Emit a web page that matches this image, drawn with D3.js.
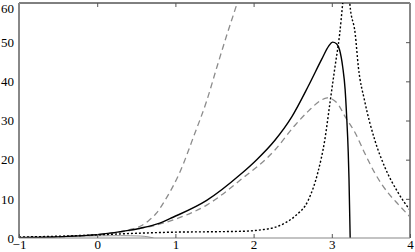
<!DOCTYPE html>
<html>
<head>
<meta charset="utf-8">
<script src="https://cdn.jsdelivr.net/npm/d3@7"></script>
<style>
	body { margin: 0; background: #fff; }
	svg { display: block; }
</style>
</head>
<body>
<div id="chart"></div>
<script>
// tick values
const xTicks = [-1, 0, 1, 2, 3, 4];
const yTicks = [0, 10, 20, 30, 40, 50, 60];

// black solid curve
const solidX = [-1, -0.5, 0, 0.42, 0.55, 0.8, 0.97, 1.4, 1.83, 2.04, 2.27, 2.49, 2.7, 2.87, 2.96, 3.01, 3.06, 3.1, 3.14, 3.17, 3.19, 3.21, 3.22, 3.235];
const solidY = [0.1, 0.3, 0.85, 2.0, 2.5, 3.8, 5.3, 9.6, 16.2, 20.0, 24.9, 31.0, 38.8, 45.6, 49.0, 50, 49.6, 48, 43.6, 38, 31, 22, 15, 0];

// grey dashed curve, steep one
const steepX = [-1, -0.5, 0, 0.3, 0.45, 0.55, 0.65, 0.76, 0.87, 1.05, 1.25, 1.4, 1.53, 1.66, 1.79, 1.85];
const steepY = [0.1, 0.3, 0.9, 1.6, 2.3, 3.0, 4.3, 6.4, 9.7, 16.5, 26.8, 35, 43.6, 52, 60, 64];

// grey dashed curve with a hump
const humpX = [-1, -0.5, 0, 0.5, 1, 1.4, 1.83, 2.27, 2.53, 2.7, 2.85, 2.94, 3.07, 3.17, 3.3, 3.42, 3.55, 3.72, 3.85, 4];
const humpY = [0.1, 0.3, 0.8, 2.2, 4.8, 8.4, 14.8, 22.4, 28.8, 32.4, 35.0, 35.8, 34.4, 31, 26.8, 21.7, 16.6, 11.5, 8.6, 5.4];

// dotted curve, left and right of the pole
const dotLeftX = [-1, -0.5, 0, 0.5, 1, 1.5, 1.9, 2.1, 2.27, 2.4, 2.53, 2.7, 2.82, 2.91, 2.98, 3.04, 3.1, 3.14, 3.17];
const dotLeftY = [0.25, 0.45, 0.8, 1.2, 1.5, 1.6, 1.75, 2.1, 2.7, 3.8, 5.6, 9.7, 16.6, 25, 35, 43.6, 52, 60, 66];
const dotRightX = [3.21, 3.23, 3.3, 3.34, 3.42, 3.55, 3.68, 3.85, 4];
const dotRightY = [68, 60, 52, 43.6, 35, 25, 18, 11.5, 7.1];

// thin grey solid curve
const thinX = [-1, -0.5, 0, 0.3, 0.55, 0.65, 0.7, 0.72];
const thinY = [0.2, 0.35, 0.55, 0.6, 0.5, 0.3, 0.1, 0];

function zip(xs, ys) {
	return xs.map(function(d, i) { return {x: d, y: ys[i]}; });
}

let margins = {top: 3, right: 5, bottom: 14, left: 19},
	full_width = 415,
	full_height = 252,
	width = full_width - margins.left - margins.right,
	height = full_height - margins.top - margins.bottom;

let x = d3.scaleLinear().domain([-1, 4]).range([0, width]);
let y = d3.scaleLinear().domain([0, 60]).range([height, 0]);

let svg = d3.select('#chart')
	.append('svg')
	.attr('width', full_width)
	.attr('height', full_height);

let g = svg.append('g')
	.attr('transform', 'translate(' + margins.left + ',' + margins.top + ')');

g.append('clipPath')
	.attr('id', 'plot-clip')
	.append('rect')
	.attr('width', width)
	.attr('height', height);

let line = d3.line()
	.x(function(d) { return x(d.x); })
	.y(function(d) { return y(d.y); })
	.curve(d3.curveMonotoneX);

let curves = g.append('g').attr('clip-path', 'url(#plot-clip)');

function drawCurve(data, stroke, w, dash) {
	curves.append('path')
		.datum(data)
		.attr('fill', 'none')
		.attr('stroke', stroke)
		.attr('stroke-width', w)
		.attr('stroke-dasharray', dash)
		.attr('d', line);
}

drawCurve(zip(thinX, thinY), '#999', 1, null);
drawCurve(zip(steepX, steepY), '#8c8c8c', 1.3, '6,4');
drawCurve(zip(humpX, humpY), '#8c8c8c', 1.3, '6,4');
drawCurve(zip(dotLeftX, dotLeftY), '#000', 1.4, '2,2');
drawCurve(zip(dotRightX, dotRightY), '#000', 1.4, '2,2');
drawCurve(zip(solidX, solidY), '#000', 1.4, null);

// frame
g.append('line').attr('x1', 0).attr('x2', width).attr('y1', 0).attr('y2', 0)
	.attr('stroke', '#000').attr('stroke-width', 1);
g.append('line').attr('x1', 0).attr('x2', width).attr('y1', height).attr('y2', height)
	.attr('stroke', '#888').attr('stroke-width', 1.2);
g.append('line').attr('x1', 0).attr('x2', 0).attr('y1', 0).attr('y2', height)
	.attr('stroke', '#888').attr('stroke-width', 2);
g.append('line').attr('x1', width).attr('x2', width).attr('y1', 0).attr('y2', height)
	.attr('stroke', '#888').attr('stroke-width', 2);

let fmt = function(d) { return d < 0 ? '\u2212' + Math.abs(d) : String(d); };

let xAxis = d3.axisBottom(x).tickValues(xTicks).tickSize(-4).tickSizeOuter(0).tickFormat(fmt);
let xAxisTop = d3.axisTop(x).tickValues(xTicks.slice(1, -1)).tickSize(-4).tickSizeOuter(0).tickFormat('');
let yAxis = d3.axisLeft(y).tickValues(yTicks).tickSize(0).tickPadding(5).tickSizeOuter(0);
let yAxisRight = d3.axisRight(y).tickValues(yTicks.slice(1, -1)).tickSize(-4).tickSizeOuter(0).tickFormat('');

g.append('g').attr('class', 'axis axis--x')
	.attr('transform', 'translate(0,' + height + ')')
	.call(xAxis);
g.append('g').attr('class', 'axis axis--x-top')
	.call(xAxisTop);
g.append('g').attr('class', 'axis axis--y')
	.call(yAxis);
g.append('g').attr('class', 'axis axis--y-right')
	.attr('transform', 'translate(' + width + ',0)')
	.call(yAxisRight);

g.selectAll('.axis .domain').remove();
g.selectAll('.axis').attr('font-family', null).attr('font-size', null);
g.selectAll('.axis text')
	.style('font-family', "'Liberation Serif', 'Times New Roman', 'DejaVu Serif', serif")
	.style('font-size', '13px')
	.attr('fill', '#000');
g.selectAll('.axis--x text').attr('y', 11).attr('dy', '0');
// keep the top label inside the window
g.selectAll('.axis--y .tick').filter(function(d) { return d === 60; })
	.select('text').attr('y', 5);
g.selectAll('.axis--x .tick line, .axis--x-top .tick line, .axis--y-right .tick line').attr('stroke', '#555');
</script>
</body>
</html>
